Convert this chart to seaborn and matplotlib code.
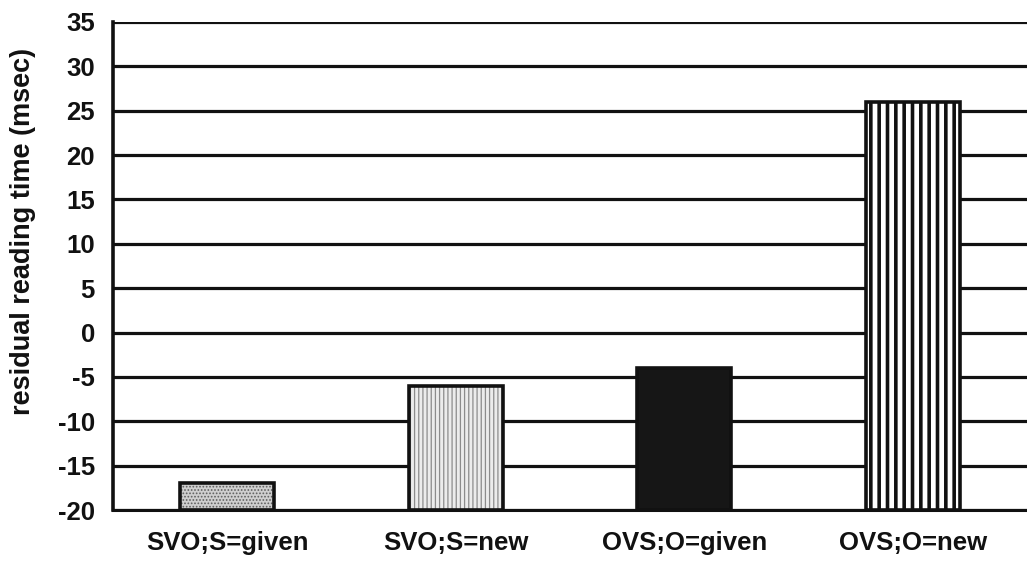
import matplotlib
matplotlib.use("Agg")
import matplotlib.pyplot as plt
import seaborn as sns
import numpy as np

conditions = ["SVO;S=given", "SVO;S=new", "OVS;O=given", "OVS;O=new"]
residual_rt = [-17, -6, -4, 26]
baseline = -20
yticks = list(range(-20, 40, 5))

sns.set_style("white", {"text.color": "#111111", "axes.labelcolor": "#111111",
                        "xtick.color": "#111111", "ytick.color": "#111111"})
plt.rcParams['font.family'] = ['Liberation Sans', 'DejaVu Sans']
plt.rcParams['font.weight'] = 'bold'
plt.rcParams['axes.unicode_minus'] = False

fig = plt.figure(figsize=(10.27, 5.63), dpi=100)
ax = fig.add_axes([0.110, 0.094, 0.890, 0.867])

# fills / hatches (no outline)
sns.barplot(x=conditions, y=residual_rt, ax=ax, width=0.41,
            color="white", linewidth=0, zorder=2)
styles = [
    dict(face="#cfcfcf", hatch=".....", hcol="#5e5e5e", hlw=0.8),
    dict(face="#ececec", hatch="||||", hcol="#8c8c8c", hlw=0.9),
    dict(face="#161616", hatch="", hcol="#161616", hlw=1.0),
    dict(face="white", hatch="||", hcol="#111111", hlw=2.6),
]
for p, v, st in zip(ax.patches, residual_rt, styles):
    p.set_y(baseline)
    p.set_height(v - baseline)
    p.set_facecolor(st["face"])
    p.set_edgecolor(st["hcol"])
    p.set_hatch(st["hatch"])
    if hasattr(p, "set_hatch_linewidth"):
        p.set_hatch_linewidth(st["hlw"])
n_fill = len(ax.patches)

# outlines
sns.barplot(x=conditions, y=residual_rt, ax=ax, width=0.41, fill=False,
            edgecolor="#111111", linewidth=2.6, zorder=3)
for p, v in zip(ax.patches[n_fill:], residual_rt):
    p.set_y(baseline)
    p.set_height(v - baseline)

ax.set_ylim(-20, 35)
ax.set_xlim(-0.5, 3.474)
ax.set_yticks(yticks)
ax.yaxis.grid(True, color="#111111", linewidth=2.3)
ax.set_axisbelow(True)

ax.set_xticks(np.arange(len(conditions)))
ax.set_xticklabels(conditions, fontsize=18.5, fontweight="bold", color="#111111")
ax.set_xticks(np.arange(len(conditions) + 1) - 0.5, minor=True)
ax.tick_params(axis="x", which="major", length=0, pad=15)
ax.tick_params(axis="x", which="minor", length=6, width=1.2, color="#111111", direction="out")
ax.tick_params(axis="y", length=5, width=1.2, color="#111111", labelcolor="#111111",
               direction="out", labelsize=18.5, pad=8)
for lab in ax.get_yticklabels():
    lab.set_fontweight("bold")

ax.set_ylabel("residual reading time (msec)", fontsize=19.5, fontweight="bold", color="#111111")
ax.yaxis.set_label_coords(-0.084, 0.57)
ax.set_xlabel("")

for side in ["top", "right"]:
    ax.spines[side].set_visible(False)
ax.spines["left"].set_color("#111111")
ax.spines["left"].set_linewidth(2.6)
ax.spines["bottom"].set_color("#111111")
ax.spines["bottom"].set_linewidth(2.2)

fig.savefig("out.png", dpi=100)
